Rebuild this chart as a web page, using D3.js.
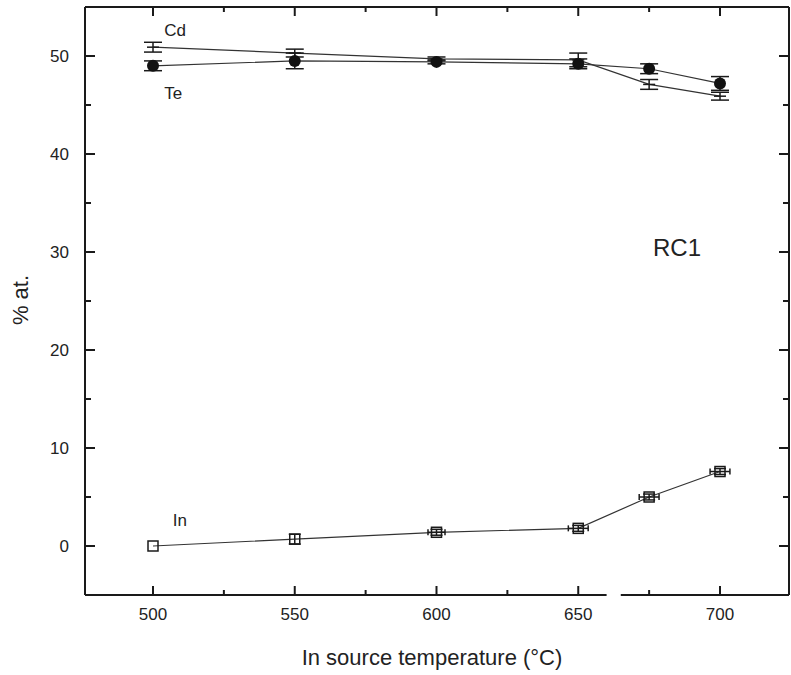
<!DOCTYPE html>
<html>
<head>
<meta charset="utf-8">
<script src="https://cdn.jsdelivr.net/npm/d3@7"></script>
<style>
  body { margin: 0; background: #fff; }
  text { font-family: "Liberation Sans", Arial, sans-serif; fill: #222; }
</style>
</head>
<body>
<svg id="drawing_region"></svg>
<script>
// data
const temps = [500, 550, 600, 650, 675, 700];
const cd_values = [50.9, 50.3, 49.7, 49.6, 47.1, 45.9];
const cd_errors = [0.5, 0.4, 0.2, 0.7, 0.5, 0.4];
const te_values = [49.0, 49.5, 49.4, 49.2, 48.7, 47.2];
const te_errors = [0.5, 0.8, 0.2, 0.5, 0.5, 0.7];
const in_values = [0.0, 0.7, 1.4, 1.8, 5.0, 7.6];
const in_errors = [0, 0.5, 0.3, 0.3, 0.3, 0.3];
const in_xerrors = [0, 0, 3, 3.5, 3.5, 3.5];
const x_ticks = [500, 550, 600, 650, 700];
const y_ticks = [0, 10, 20, 30, 40, 50];

const config = {
    parent: '#drawing_region',
    width: 791,
    height: 675,
    frame: {left: 85, right: 789, top: 7, bottom: 595},
    xlabel: 'In source temperature (\u00B0C)',
    ylabel: '% at.'
};

const svg = d3.select(config.parent)
    .attr('width', config.width)
    .attr('height', config.height);

const xscale = d3.scaleLinear().domain([500, 700]).range([153, 720]);
const yscale = d3.scaleLinear().domain([0, 50]).range([546, 56]);
const f = config.frame;
const ink = '#1a1a1a';

// frame (bottom axis has a small break after 650)
svg.append('line').attr('x1', f.left).attr('x2', f.left).attr('y1', f.top).attr('y2', f.bottom)
    .attr('stroke', ink).attr('stroke-width', 2);
svg.append('line').attr('x1', f.right).attr('x2', f.right).attr('y1', f.top).attr('y2', f.bottom)
    .attr('stroke', ink).attr('stroke-width', 2);
svg.append('line').attr('x1', f.left).attr('x2', f.right).attr('y1', f.top).attr('y2', f.top)
    .attr('stroke', ink).attr('stroke-width', 2);
svg.append('line').attr('x1', f.left).attr('x2', xscale(660)).attr('y1', f.bottom).attr('y2', f.bottom)
    .attr('stroke', ink).attr('stroke-width', 2);
svg.append('line').attr('x1', xscale(665)).attr('x2', f.right).attr('y1', f.bottom).attr('y2', f.bottom)
    .attr('stroke', ink).attr('stroke-width', 2);

// inward ticks on all four sides
const x_minor = d3.range(525, 701, 50);
const y_minor = d3.range(5, 51, 10);
const ticks = svg.append('g').attr('stroke', ink).attr('stroke-width', 2);
[[x_ticks, 9], [x_minor, 5]].forEach(([vals, len]) => {
    vals.forEach(v => {
        ticks.append('line').attr('x1', xscale(v)).attr('x2', xscale(v))
            .attr('y1', f.bottom).attr('y2', f.bottom - len);
        ticks.append('line').attr('x1', xscale(v)).attr('x2', xscale(v))
            .attr('y1', f.top).attr('y2', f.top + len);
    });
});
[[y_ticks, 10], [y_minor, 6]].forEach(([vals, len]) => {
    vals.forEach(v => {
        ticks.append('line').attr('x1', f.left).attr('x2', f.left + len)
            .attr('y1', yscale(v)).attr('y2', yscale(v));
        ticks.append('line').attr('x1', f.right).attr('x2', f.right - len)
            .attr('y1', yscale(v)).attr('y2', yscale(v));
    });
});

// tick labels
svg.selectAll('.xtick').data(x_ticks).enter().append('text')
    .attr('x', d => xscale(d)).attr('y', 620)
    .attr('text-anchor', 'middle').style('font-size', '17px')
    .text(d => d);
svg.selectAll('.ytick').data(y_ticks).enter().append('text')
    .attr('x', 69).attr('y', d => yscale(d)).attr('dy', '0.35em')
    .attr('text-anchor', 'end').style('font-size', '17px')
    .text(d => d);

// axis labels
svg.append('text')
    .attr('x', 432).attr('y', 665)
    .attr('text-anchor', 'middle').style('font-size', '22px')
    .text(config.xlabel);
svg.append('text')
    .attr('transform', 'translate(28, 300) rotate(-90)')
    .attr('text-anchor', 'middle').style('font-size', '22px')
    .text(config.ylabel);

// series
const series = [
    {name: 'Cd', values: cd_values, errors: cd_errors, marker: 'cross'},
    {name: 'Te', values: te_values, errors: te_errors, marker: 'circle'},
    {name: 'In', values: in_values, errors: in_errors, marker: 'square'}
];

const line = d3.line()
    .x(d => xscale(d.t))
    .y(d => yscale(d.v));

series.forEach(s => {
    const pts = temps.map((t, i) => ({t: t, v: s.values[i], e: s.errors[i], xe: s.name === 'In' ? in_xerrors[i] : 0}));
    svg.append('path')
        .datum(pts)
        .attr('d', line)
        .attr('fill', 'none')
        .attr('stroke', '#333')
        .attr('stroke-width', 1.2);

    const g = svg.append('g').selectAll('g').data(pts).enter().append('g')
        .attr('transform', d => `translate(${xscale(d.t)}, ${yscale(d.v)})`);

    // vertical error bars with caps
    g.filter(d => d.e > 0).each(function(d) {
        const sel = d3.select(this);
        const up = yscale(d.v + d.e) - yscale(d.v);
        const dn = yscale(d.v - d.e) - yscale(d.v);
        const cap = s.marker === 'square' ? 6 : 9;
        sel.append('line').attr('x1', 0).attr('x2', 0).attr('y1', up).attr('y2', dn)
            .attr('stroke', ink).attr('stroke-width', 1.5);
        sel.append('line').attr('x1', -cap).attr('x2', cap).attr('y1', up).attr('y2', up)
            .attr('stroke', ink).attr('stroke-width', 1.5);
        sel.append('line').attr('x1', -cap).attr('x2', cap).attr('y1', dn).attr('y2', dn)
            .attr('stroke', ink).attr('stroke-width', 1.5);
    });

    // horizontal error bars (In only)
    g.filter(d => d.xe > 0).each(function(d) {
        const sel = d3.select(this);
        const w = xscale(d.t + d.xe) - xscale(d.t);
        sel.append('line').attr('x1', -w).attr('x2', w).attr('y1', 0).attr('y2', 0)
            .attr('stroke', ink).attr('stroke-width', 1.5);
        [-w, w].forEach(x => sel.append('line').attr('x1', x).attr('x2', x).attr('y1', -3).attr('y2', 3)
            .attr('stroke', ink).attr('stroke-width', 1.5));
    });

    if (s.marker === 'circle') {
        g.append('circle').attr('r', 6).attr('fill', '#111');
    } else if (s.marker === 'cross') {
        g.append('line').attr('x1', -6).attr('x2', 6).attr('y1', 0).attr('y2', 0)
            .attr('stroke', ink).attr('stroke-width', 1.5);
    } else {
        g.append('rect').attr('x', -5).attr('y', -5).attr('width', 10).attr('height', 10)
            .attr('fill', 'none').attr('stroke', ink).attr('stroke-width', 1.5);
    }
});

// series labels and sample name
svg.append('text').attr('x', xscale(504)).attr('y', 36).style('font-size', '17px').text('Cd');
svg.append('text').attr('x', xscale(504)).attr('y', 99).style('font-size', '17px').text('Te');
svg.append('text').attr('x', xscale(507)).attr('y', 526).style('font-size', '17px').text('In');
svg.append('text').attr('x', 677).attr('y', 256).attr('text-anchor', 'middle')
    .style('font-size', '24px').text('RC1');
</script>
</body>
</html>
